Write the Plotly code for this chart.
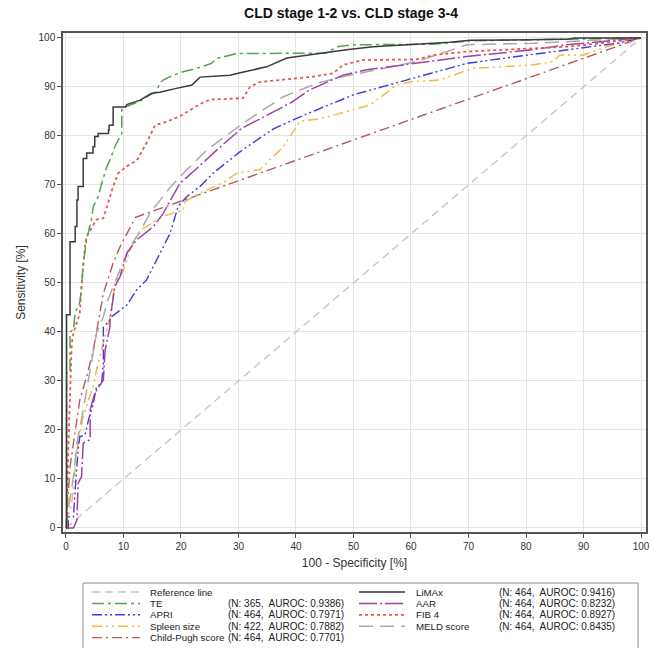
import plotly.graph_objects as go

# ---------------- data ----------------
ref_x = [0, 100]
ref_y = [0, 100]

limax_x = [0, 0.1, 0.1, 0.7, 0.7, 1.6, 1.6, 1.9, 1.9, 2.1, 2.1, 3.0, 3.0, 3.6, 3.6, 4.7, 4.7, 5.0, 5.0, 5.6, 5.6,
           7.4, 7.4, 7.5, 7.5, 8.2, 8.2, 10.3, 10.6, 12.9, 14.9, 16.3, 19.2, 21.9, 23.3, 28.5, 30.3, 34.9, 38.4,
           41.9, 48.8, 53.4, 66.8, 70.3, 87.1, 88.5, 100]
limax_y = [0, 0, 43.5, 43.5, 58.4, 58.4, 61.5, 61.5, 66.9, 66.9, 69.7, 69.7, 75.4, 75.4, 76.5, 76.5, 77.8, 77.8,
           79.9, 79.9, 80.5, 80.5, 81.2, 81.2, 82.2, 82.2, 85.9, 85.9, 86.4, 87.3, 88.7, 88.9, 89.7, 90.4, 92.0,
           92.4, 92.9, 94.1, 95.9, 96.5, 97.6, 98.2, 99.1, 99.5, 99.7, 100, 100]

te_x = [0, 0.1, 0.1, 0.7, 0.7, 1.3, 1.6, 2.4, 2.7, 3.0, 3.6, 4.5, 4.75, 5.6, 6.2, 7.1, 7.65, 8.5, 9.1, 9.7, 9.7,
        10.6, 12.9, 14.6, 15.8, 16.3, 16.9, 18.7, 20.4, 22.7, 25.3, 26.2, 29.7, 45.3, 47.1, 50.0, 63.9, 70.3,
        90.0, 100]
te_y = [0, 0, 32, 32, 40, 40.5, 44, 46, 49, 54, 58.8, 63.5, 65.6, 67.6, 70.3, 73.7, 75.1, 77.8, 79.2, 80.5, 85.6,
        86.0, 87.1, 88.4, 89.0, 90.8, 91.4, 92.4, 93.1, 93.8, 94.8, 95.8, 96.8, 96.9, 98.2, 98.6, 98.7, 99.4,
        99.7, 100]

apri_x = [0, 0.4, 0.4, 1.3, 1.6, 2.1, 2.4, 3.3, 3.9, 4.5, 4.75, 5.3, 6.2, 6.5, 6.5, 7.65, 7.9, 10.6, 12.3, 14.0,
          15.8, 18.1, 19.5, 21.0, 23.3, 25.6, 30.3, 36.0, 40.7, 50.0, 59.2, 69.7, 78.4, 87.1, 95.8, 100]
apri_y = [0, 0, 2.3, 2.3, 7.8, 16, 18.6, 19, 22, 24.1, 25.4, 28.8, 29.5, 33.6, 41, 42.4, 43.1, 45.5, 48.6, 50.6,
          54.7, 60.1, 65.6, 67.6, 69.7, 72.4, 76.8, 81.4, 83.9, 88.4, 91.4, 94.8, 96.2, 97.6, 98.9, 100]

spleen_x = [0, 0.5, 1.0, 1.3, 1.9, 2.4, 3.0, 3.9, 4.75, 5.3, 6.5, 7.65, 8.5, 10.0, 11.1, 12.9, 14.0, 16.9, 20.4,
            20.7, 23.9, 27.4, 29.7, 33.7, 37.8, 40.7, 44.2, 47.7, 52.9, 57.5, 60.4, 65.0, 70.8, 81.3, 84.7, 85.9,
            90.0, 94.0, 100]
spleen_y = [0, 3, 5, 9, 16, 19, 22.7, 26.1, 28.8, 32.2, 37.7, 43.1, 49.9, 52.5, 56.7, 60.8, 61.5, 63.6, 64.9,
            66.6, 68.7, 70.5, 72.4, 73.1, 77.8, 83.0, 83.5, 84.6, 86.3, 90.4, 91.1, 91.4, 93.8, 94.5, 95.2, 96.5,
            96.5, 98.2, 100]

childpugh_x = [0, 0.7, 1.3, 2.4, 3.6, 4.75, 6.5, 8.2, 9.4, 12.1, 100]
childpugh_y = [0, 12.5, 17.3, 26.1, 30.9, 36.3, 47.9, 54.0, 57.4, 63.4, 100]

aar_x = [0, 1.3, 1.9, 2.1, 2.7, 3.0, 4.2, 4.2, 5.0, 6.5, 6.8, 7.65, 7.65, 8.5, 9.4, 10.6, 12.3, 15.2, 16.9, 19.8,
         22.7, 26.2, 30.5, 39.0, 42.4, 48.2, 52.3, 61.0, 69.7, 81.3, 87.1, 100]
aar_y = [0, 0, 1.6, 9.1, 10.5, 17.3, 18.0, 24.1, 27.5, 30.2, 36.3, 41.1, 42.4, 49.3, 51.3, 56.1, 58.8, 61.5, 64.2,
         70.3, 73.3, 77.1, 81.5, 86.7, 89.4, 92.4, 93.5, 94.8, 96.2, 97.6, 98.6, 100]

fib4_x = [0, 0.1, 0.4, 0.7, 1.0, 1.3, 2.1, 2.4, 2.7, 3.0, 3.3, 3.6, 5.3, 6.5, 7.1, 8.2, 9.1, 10.6, 12.3, 14.0, 15.5,
          17.5, 19.8, 22.1, 23.3, 25.0, 30.8, 32.0, 33.7, 43.0, 46.5, 48.2, 51.7, 61.0, 63.9, 69.7, 87.1, 92.9, 100]
fib4_y = [0, 0.3, 16, 29.6, 37.7, 39.8, 42.4, 43.8, 49.3, 54.0, 57.5, 59.5, 62.9, 63.2, 65.6, 69.7, 72.4, 73.8,
          75.0, 78.5, 82.2, 82.9, 84.0, 85.7, 86.5, 87.4, 87.7, 90.0, 91.0, 92.1, 92.8, 94.5, 95.5, 95.6, 96.5,
          97.2, 98.2, 98.9, 100]

meld_x = [0, 0.4, 1.3, 1.9, 3.0, 3.6, 5.3, 6.5, 7.1, 8.2, 9.4, 11.1, 12.9, 14.6, 18.1, 21.0, 24.5, 28.5, 30.8,
          37.8, 43.6, 48.2, 52.3, 61.0, 66.2, 69.7, 81.3, 100]
meld_y = [0, 3.7, 10.5, 17.3, 24.1, 28.2, 39.7, 43.1, 45.9, 49.3, 52.7, 57.4, 60.5, 64.2, 69.5, 73.1, 77.1, 80.5,
          82.6, 88.0, 90.7, 92.1, 93.1, 95.2, 97.2, 98.6, 98.9, 100]

series_names = ["Reference line", "TE", "APRI", "Spleen size", "Child-Pugh score",
                "LiMAx", "AAR", "FIB 4", "MELD score"]
series_n = [None, 365, 464, 422, 464, 464, 464, 464, 464]
series_auroc = [None, 0.9386, 0.7971, 0.7882, 0.7701, 0.9416, 0.8232, 0.8927, 0.8435]

x_ticks = list(range(0, 101, 10))
y_ticks = list(range(0, 101, 10))

title_text = "CLD stage 1-2 vs. CLD stage 3-4"
x_title = "100 - Specificity [%]"
y_title = "Sensitivity [%]"

# ---------------- styling ----------------
styles = {
    "Reference line": dict(color="#c4c4c4", dash="8px,5px", width=1.3),
    "TE": dict(color="#4da64d", dash="12px,4px,3px,4px", width=1.5),
    "APRI": dict(color="#3c3ce0", dash="10px,3px,2px,3px,2px,3px", width=1.4),
    "Spleen size": dict(color="#f4b942", dash="10px,4px,2px,4px,2px,4px", width=1.5),
    "Child-Pugh score": dict(color="#b65a5a", dash="10px,4px,2px,4px", width=1.4),
    "LiMAx": dict(color="#3a3a3a", dash="solid", width=1.5),
    "AAR": dict(color="#a040a8", dash="18px,3px,2px,3px", width=1.5),
    "FIB 4": dict(color="#ef5350", dash="3px,3px", width=1.8),
    "MELD score": dict(color="#a9a9a9", dash="14px,7px", width=1.5),
}

data_map = {
    "Reference line": (ref_x, ref_y),
    "TE": (te_x, te_y),
    "APRI": (apri_x, apri_y),
    "Spleen size": (spleen_x, spleen_y),
    "Child-Pugh score": (childpugh_x, childpugh_y),
    "LiMAx": (limax_x, limax_y),
    "AAR": (aar_x, aar_y),
    "FIB 4": (fib4_x, fib4_y),
    "MELD score": (meld_x, meld_y),
}

W, H = 652, 648
ML, MR, MT, MB = 63, 6, 33, 116
PW, PH = W - ML - MR, H - MT - MB


def fx(px):
    return (px - ML) / PW


def fy(py):
    return (H - MB - py) / PH


fig = go.Figure()
draw_order = ["Reference line", "Child-Pugh score", "Spleen size", "APRI", "MELD score", "AAR", "FIB 4", "TE", "LiMAx"]
for name in draw_order:
    xs, ys = data_map[name]
    fig.add_trace(go.Scatter(x=xs, y=ys, mode="lines", name=name, line=styles[name],
                             showlegend=False, hoverinfo="skip"))

# ---------------- custom legend (two columns) ----------------
shapes = []
annotations = []
box_left, box_right, box_top, box_bottom = 83, 638, 583, 652
shapes.append(dict(type="rect", xref="paper", yref="paper",
                   x0=fx(box_left), x1=fx(box_right), y0=fy(box_top), y1=fy(box_bottom),
                   line=dict(color="#8a8a8a", width=1), fillcolor="white", layer="above"))
row0, row_step = 592, 11.4
cols = [dict(s0=92, s1=140, name=148, stats=226), dict(s0=359, s1=405, name=414, stats=497)]
for i, name in enumerate(series_names):
    col = cols[0] if i < 5 else cols[1]
    row = i if i < 5 else i - 5
    yy = fy(row0 + row * row_step)
    st = styles[name]
    shapes.append(dict(type="line", xref="paper", yref="paper", x0=fx(col["s0"]), x1=fx(col["s1"]),
                       y0=yy, y1=yy, line=dict(color=st["color"], dash=st["dash"], width=st["width"]),
                       layer="above"))
    annotations.append(dict(text=name, xref="paper", yref="paper", x=fx(col["name"]), y=yy,
                            xanchor="left", yanchor="middle", showarrow=False,
                            font=dict(size=9.7, color="#222222")))
    if series_n[i] is not None:
        annotations.append(dict(text=f"(N: {series_n[i]},&nbsp; AUROC: {series_auroc[i]:.4f})",
                                xref="paper", yref="paper", x=fx(col["stats"]), y=yy,
                                xanchor="left", yanchor="middle", showarrow=False,
                                font=dict(size=10, color="#222222")))

axis_common = dict(showline=True, mirror=True, linecolor="#555555", linewidth=1.5,
                   ticks="outside", ticklen=4, tickcolor="#555555", tickwidth=1,
                   showgrid=True, gridcolor="#e4e4e4", gridwidth=1, zeroline=False,
                   automargin=False, tickfont=dict(size=10, color="#333333"))

fig.update_layout(
    width=W, height=H,
    margin=dict(l=ML, r=MR, t=MT, b=MB, pad=0),
    paper_bgcolor="white", plot_bgcolor="white",
    font=dict(family="Liberation Sans, Arial, sans-serif", color="#222222"),
    title=dict(text=f"<b>{title_text}</b>", x=351 / W, xanchor="center", y=1 - 13 / H, yanchor="middle",
               font=dict(size=14, color="#111111")),
    xaxis=dict(range=[-0.52, 100.87], tickvals=x_ticks,
               title=dict(text=x_title, standoff=8, font=dict(size=12, color="#333333")), **axis_common),
    yaxis=dict(range=[-0.82, 101.0], tickvals=y_ticks,
               title=dict(text=y_title, standoff=10, font=dict(size=12, color="#333333")), **axis_common),
    shapes=shapes,
    annotations=annotations,
    showlegend=False,
)

fig.write_html("out.html", config={"displayModeBar": False},
               post_script="document.body.style.margin='0';document.body.style.overflow='hidden';")
